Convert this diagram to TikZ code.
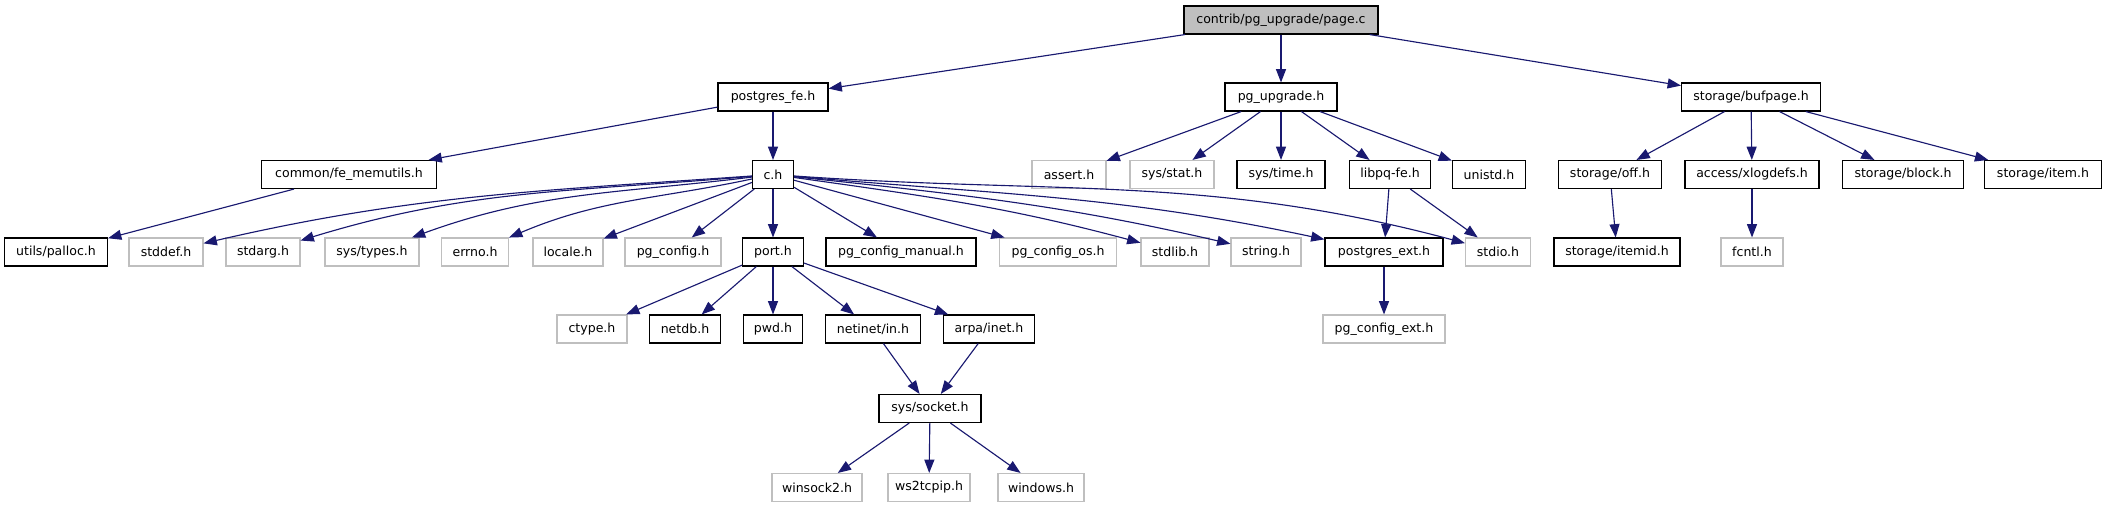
\documentclass[tikz,border=0pt]{standalone}
\usepackage{fontspec}
\setmainfont{DejaVu Sans}
\usetikzlibrary{arrows.meta}
\definecolor{mblue}{HTML}{191970}
\definecolor{lgrey}{HTML}{BFBFBF}
\tikzset{
  box/.style={draw=black, line width=0.8pt, rectangle, inner sep=1pt,
    minimum height=28*0.75pt, font=\fontsize{9.4}{11}\selectfont},
  gbox/.style={box, draw=lgrey},
  bw/.style={minimum width=#1*0.75pt},
  conn/.style={draw=mblue, line width=0.85pt, -{Triangle[length=10pt,width=7.5pt]}},
}
\begin{document}
\begin{tikzpicture}[x=0.75pt,y=0.75pt]
\useasboundingbox (0,0) rectangle (2107,-504);
% row 1
\node[box, fill=lgrey, bw=194] (pagec) at (1281,-20) {contrib/pg\_upgrade/page.c};
% row 2
\node[box, bw=110] (pgfe) at (773,-97) {postgres\_fe.h};
\node[box, bw=112] (pgup) at (1281,-97) {pg\_upgrade.h};
\node[box, bw=139] (bufpage) at (1751,-97) {storage/bufpage.h};
% row 3
\node[box, bw=175] (femem) at (349,-174.5) {common/fe\_memutils.h};
\node[box, bw=41] (ch) at (773,-174.5) {c.h};
\node[gbox, bw=74] (assert) at (1069,-174.5) {assert.h};
\node[gbox, bw=84] (sysstat) at (1172,-174.5) {sys/stat.h};
\node[box, bw=88] (systime) at (1281,-174.5) {sys/time.h};
\node[box, bw=81] (libpq) at (1390,-174.5) {libpq-fe.h};
\node[box, bw=73] (unistd) at (1489,-174.5) {unistd.h};
\node[box, bw=103] (off) at (1610,-174.5) {storage/off.h};
\node[box, bw=134] (xlog) at (1752,-174.5) {access/xlogdefs.h};
\node[box, bw=121] (block) at (1903,-174.5) {storage/block.h};
\node[box, bw=117] (item) at (2043,-174.5) {storage/item.h};
% row 4
\node[box, bw=103] (palloc) at (56,-252) {utils/palloc.h};
\node[gbox, bw=74] (stddef) at (166,-252) {stddef.h};
\node[gbox, bw=74] (stdarg) at (263,-252) {stdarg.h};
\node[gbox, bw=94] (systypes) at (372,-252) {sys/types.h};
\node[gbox, bw=67] (errno) at (475,-252) {errno.h};
\node[gbox, bw=70] (locale) at (568,-252) {locale.h};
\node[gbox, bw=96] (pgconfig) at (673,-252) {pg\_config.h};
\node[box, bw=61] (port) at (773,-252) {port.h};
\node[box, bw=150] (pgcm) at (901,-252) {pg\_config\_manual.h};
\node[gbox, bw=117] (pgcos) at (1058,-252) {pg\_config\_os.h};
\node[gbox, bw=68] (stdlib) at (1175,-252) {stdlib.h};
\node[gbox, bw=70] (string) at (1266,-252) {string.h};
\node[box, bw=118] (pgext) at (1384,-252) {postgres\_ext.h};
\node[gbox, bw=65] (stdio) at (1498,-252) {stdio.h};
\node[box, bw=126] (itemid) at (1617,-252) {storage/itemid.h};
\node[gbox, bw=62] (fcntl) at (1752,-252) {fcntl.h};
% row 5
\node[gbox, bw=70] (ctype) at (592,-329) {ctype.h};
\node[box, bw=71] (netdb) at (685,-329) {netdb.h};
\node[box, bw=59] (pwd) at (773,-329) {pwd.h};
\node[box, bw=95] (netinet) at (873,-329) {netinet/in.h};
\node[box, bw=91] (arpa) at (989,-329) {arpa/inet.h};
\node[gbox, bw=122] (pgcext) at (1384,-329) {pg\_config\_ext.h};
% row 6
\node[box, bw=102] (socket) at (930,-408.5) {sys/socket.h};
% row 7
\node[gbox, bw=90] (winsock) at (817,-487.5) {winsock2.h};
\node[gbox, bw=82] (ws2) at (929,-487.5) {ws2tcpip.h};
\node[gbox, bw=86] (windows) at (1041,-487.5) {windows.h};
% edges
\draw[conn] (pagec) -- (pgfe);
\draw[conn] (pagec) -- (pgup);
\draw[conn] (pagec) -- (bufpage);
\draw[conn] (pgfe) -- (femem);
\draw[conn] (pgfe) -- (ch);
\draw[conn] (femem) -- (palloc);
\draw[conn] (pgup) -- (assert);
\draw[conn] (pgup) -- (sysstat);
\draw[conn] (pgup) -- (systime);
\draw[conn] (pgup) -- (libpq);
\draw[conn] (pgup) -- (unistd);
\draw[conn] (libpq) -- (pgext);
\draw[conn] (libpq) -- (stdio);
\draw[conn] (pgext) -- (pgcext);
\draw[conn] (bufpage) -- (off);
\draw[conn] (bufpage) -- (xlog);
\draw[conn] (bufpage) -- (block);
\draw[conn] (bufpage) -- (item);
\draw[conn] (off) -- (itemid);
\draw[conn] (xlog) -- (fcntl);
\draw[conn] (ch) to[out=184,in=13] (stddef);
\draw[conn] (ch) to[out=185,in=17] (stdarg);
\draw[conn] (ch) to[out=187,in=20] (systypes);
\draw[conn] (ch) to[out=192,in=23] (errno);
\draw[conn] (ch) -- (locale);
\draw[conn] (ch) -- (pgconfig);
\draw[conn] (ch) -- (port);
\draw[conn] (ch) -- (pgcm);
\draw[conn] (ch) -- (pgcos);
\draw[conn] (ch) to[out=-8,in=165] (stdlib);
\draw[conn] (ch) to[out=-6,in=167] (string);
\draw[conn] (ch) to[out=-5,in=168] (pgext);
\draw[conn] (ch) to[out=-4,in=165] (stdio);
\draw[conn] (port) -- (ctype);
\draw[conn] (port) -- (netdb);
\draw[conn] (port) -- (pwd);
\draw[conn] (port) -- (netinet);
\draw[conn] (port) -- (arpa);
\draw[conn] (netinet) -- (socket);
\draw[conn] (arpa) -- (socket);
\draw[conn] (socket) -- (winsock);
\draw[conn] (socket) -- (ws2);
\draw[conn] (socket) -- (windows);
\end{tikzpicture}
\end{document}
